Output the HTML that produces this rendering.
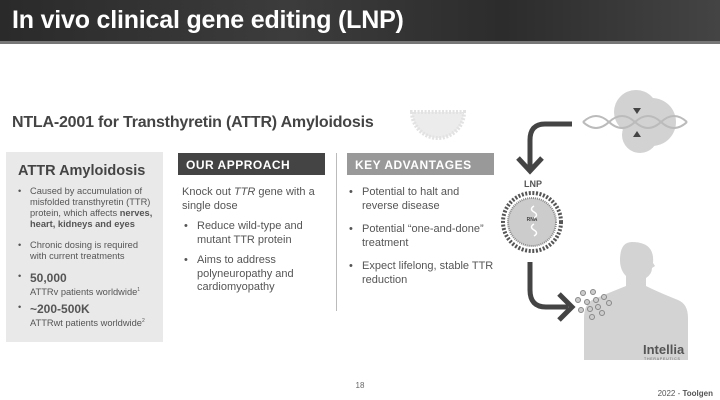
<!DOCTYPE html>
<html><head><meta charset="utf-8"><style>
*{margin:0;padding:0;box-sizing:border-box}
body{width:720px;height:400px;background:#fff;position:relative;overflow:hidden;font-family:"Liberation Sans",Arial,sans-serif;color:#555}
.hdr{position:absolute;left:0;top:0;width:720px;height:44px;background:linear-gradient(90deg,#2a2a2a,#3c3c3c 40%,#2c2c2c 70%,#444);border-bottom:3px solid #777}
.hdr h1{position:absolute;left:12px;top:6px;color:#fff;font-size:25px;font-weight:bold;letter-spacing:-0.2px}
.abs{position:absolute}
.t2{left:12px;top:114px;font-size:16px;font-weight:bold;color:#444;letter-spacing:-0.2px}
.lb{left:6px;top:152px;width:157px;height:190px;background:#e9e9e9}
.lb h2{position:absolute;left:12px;top:11px;font-size:14.5px;color:#444}
.li{position:absolute;font-size:9.3px;line-height:11px;color:#555;padding-left:12px}
.li:before{content:"•";position:absolute;left:0}
.ph{height:22px;font-size:12px;font-weight:bold;color:#fff;padding:5px 0 0 8px;letter-spacing:0.5px}
.bt{position:absolute;font-size:11px;line-height:13.5px;color:#555}
.b2{position:absolute;font-size:11px;line-height:13.5px;color:#555;padding-left:15px}
.b2:before{content:"•";position:absolute;left:2px}
</style></head><body>
<div class="hdr"><h1>In vivo clinical gene editing (LNP)</h1></div>
<div class="abs t2">NTLA-2001 for Transthyretin (ATTR) Amyloidosis</div>
<div class="abs lb"><h2>ATTR Amyloidosis</h2>
<div class="li" style="left:12px;top:34px;width:146px">Caused by accumulation of misfolded transthyretin (TTR) protein, which affects <b>nerves, heart, kidneys and eyes</b></div>
<div class="li" style="left:12px;top:88px;width:138px">Chronic dosing is required with current treatments</div>
<div class="li" style="left:12px;top:119px;width:146px"><b style="font-size:12px;line-height:14px">50,000</b><br>ATTRv patients worldwide<sup style="font-size:5px">1</sup></div>
<div class="li" style="left:12px;top:150px;width:146px"><b style="font-size:12px;line-height:14px">~200-500K</b><br>ATTRwt patients worldwide<sup style="font-size:5px">2</sup></div>
</div>
<div class="abs ph" style="left:178px;top:153px;width:147px;background:#444">OUR APPROACH</div>
<div class="abs" style="left:336px;top:153px;width:1px;height:158px;background:#bbb"></div>
<div class="abs ph" style="left:347px;top:153px;width:147px;background:#999">KEY ADVANTAGES</div>
<div class="bt" style="left:182px;top:186px;width:150px">Knock out <i>TTR</i> gene with a single dose</div>
<div class="b2" style="left:182px;top:220px;width:145px">Reduce wild-type and mutant TTR protein</div>
<div class="b2" style="left:182px;top:254px;width:145px">Aims to address polyneuropathy and cardiomyopathy</div>
<div class="b2" style="left:347px;top:186px;width:150px">Potential to halt and reverse disease</div>
<div class="b2" style="left:347px;top:223px;width:150px">Potential “one-and-done” treatment</div>
<div class="b2" style="left:347px;top:260px;width:150px">Expect lifelong, stable TTR reduction</div>
<svg class="abs" style="left:0;top:0" width="720" height="400">
<path d="M412 112 A26 26 0 0 0 464 112 Z" fill="#ececec" stroke="#e2e2e2" stroke-width="4" stroke-dasharray="2 1.5"/>
<circle cx="636" cy="112" r="22" fill="#d2d2d2"/><circle cx="652" cy="122" r="24" fill="#d2d2d2"/><circle cx="640" cy="135" r="18" fill="#d2d2d2"/>
<path d="M583 122 Q596 110 609 122 T635 122 T661 122 T687 122" stroke="#bbb" stroke-width="2" fill="none"/>
<path d="M583 122 Q596 134 609 122 T635 122 T661 122 T687 122" stroke="#bbb" stroke-width="2" fill="none"/>
<polygon points="633,108 641,108 637,114" fill="#444"/><polygon points="633,137 641,137 637,131" fill="#444"/>
<path d="M572 124 H545 Q530 124 530 140 V168" stroke="#444" stroke-width="5" fill="none"/>
<path d="M518 158 L530 171 L542 158" stroke="#444" stroke-width="5" fill="none"/>
<text x="533" y="187" font-size="9" font-weight="bold" fill="#555" text-anchor="middle" font-family="Liberation Sans">LNP</text>
<circle cx="532" cy="222" r="29" fill="none" stroke="#555" stroke-width="4" stroke-dasharray="2 1.6"/>
<circle cx="532" cy="222" r="24" fill="#ccc" stroke="#888" stroke-width="2" stroke-dasharray="1 1"/>
<text x="532" y="221" font-size="5" font-weight="bold" fill="#444" text-anchor="middle" font-family="Liberation Sans">RNA</text>
<path d="M534 206 q-5 3 0 6 q5 3 0 6" stroke="#fff" stroke-width="1.5" fill="none"/>
<path d="M534 224 q-5 3 0 6 q5 3 0 6" stroke="#fff" stroke-width="1.5" fill="none"/>
<path d="M632 242 q-12 0 -12 18 q0 10 6 16 v10 q-20 8 -34 14 q-8 5 -8 18 v42 h104 v-42 q0 -14 -10 -18 q-20 -8 -32 -14 v-8 q6 -4 6 -10 l3 -2 -2 -3 q2 -21 -21 -21z" fill="#d3d3d3"/>
<path d="M530 262 V290 Q530 307 546 307 H568" stroke="#444" stroke-width="5" fill="none"/>
<path d="M559 294 L572 307 L559 320" stroke="#444" stroke-width="5" fill="none"/>
<g fill="#ccc" stroke="#888" stroke-width="1"><circle cx="583" cy="293" r="2.5"/><circle cx="593" cy="292" r="2.5"/><circle cx="578" cy="300" r="2.5"/><circle cx="587" cy="302" r="2.5"/><circle cx="596" cy="300" r="2.5"/><circle cx="604" cy="297" r="2.5"/><circle cx="609" cy="303" r="2.5"/><circle cx="581" cy="310" r="2.5"/><circle cx="590" cy="309" r="2.5"/><circle cx="598" cy="307" r="2.5"/><circle cx="602" cy="313" r="2.5"/><circle cx="592" cy="317" r="2.5"/></g>
<text x="643" y="354" font-size="13" font-weight="bold" fill="#555" font-family="Liberation Sans">Intellia</text>
<text x="644" y="360" font-size="3.5" fill="#666" letter-spacing="0.8" font-family="Liberation Sans">THERAPEUTICS</text>
<text x="360" y="388" font-size="8" fill="#666" text-anchor="middle" font-family="Liberation Sans">18</text>
<text x="713" y="396" font-size="8" fill="#555" text-anchor="end" font-family="Liberation Sans">2022 - <tspan font-weight="bold">Toolgen</tspan></text>
</svg>
</body></html>
